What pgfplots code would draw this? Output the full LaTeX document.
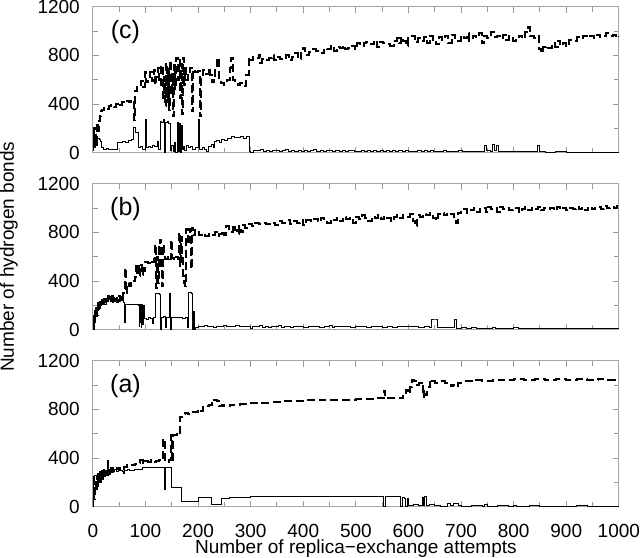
\documentclass[border=0pt]{standalone}
\usepackage{fontspec}
\setmainfont{Liberation Sans}
\usepackage{pgfplots}
\pgfplotsset{compat=1.18}
\usepgfplotslibrary{groupplots}

\pgfplotsset{
  hbaxis/.style={
    width=263pt, height=73pt, scale only axis,
    xmin=0, xmax=1000, ymin=0, ymax=1200,
    xtick={0,100,...,1000}, ytick={0,400,800,1200},
    minor x tick num=1, minor y tick num=1,
    tick align=inside,
    major tick length=3pt, minor tick length=2.5pt,
    axis line style={gray!70, line width=0.6pt},
    every tick/.style={gray!80, line width=0.5pt},
    tick label style={font=\fontsize{9.5}{10}\selectfont},
    yticklabel style={xshift=-3pt, inner ysep=0pt},
    xticklabel style={yshift=-5pt, inner xsep=0pt},
    /pgf/number format/assume math mode=true,
    /pgf/number format/1000 sep={},
    clip=true,
  },
  hbonds/.style={black, line width=0.5pt, const plot},
  hbdash/.style={black, line width=1pt, const plot, dash pattern=on 4pt off 2pt},
}
\tikzset{panel/.style={font=\fontsize{12.5}{13}\selectfont}}

\begin{document}
\begin{tikzpicture}
\begin{groupplot}[
  group style={group size=1 by 3, vertical sep=15.5pt,
               xticklabels at=edge bottom},
  hbaxis,
]
% ---------------- (c)
\nextgroupplot
\addplot[hbdash] coordinates {
(0,150) (2,60) (3,200) (5,120) (7,230) (9,180) (11,260) (13,300) (15,340) (18,350)
(22,370) (27,360) (30,380) (35,390) (40,375) (44,400) (48,410) (52,395) (56,420)
(60,410) (64,425) (68,415) (72,430) (76,420) (78,270) (80,510) (84,540) (88,560)
(92,590) (96,540) (99,660) (101,580) (104,620) (108,660) (112,590) (116,680)
(118,560) (120,620) (124,700) (126,560) (130,720) (133,450) (135,620) (137,380)
(139,740) (141,420) (143,700) (145,350) (147,760) (149,480) (151,650) (153,300)
(155,720) (157,520) (159,780) (161,600) (163,760) (165,450) (167,730) (169,320)
(171,780) (173,560) (175,700) (177,600) (180,650) (185,700) (188,340) (190,680)
(195,660) (200,670) (203,300) (205,620) (210,680) (215,650) (220,700) (223,640)
(226,580) (230,600) (233,700) (236,780) (239,590) (243,570) (250,560) (255,600)
(260,700) (263,780) (266,600) (270,580) (275,560) (280,570) (286,550) (292,640)
(296,780) (300,760) (305,790) (310,780) (315,800) (318,740) (322,770) (328,760)
(335,780) (340,800) (345,760) (350,790) (355,770) (362,780) (368,800) (372,760)
(378,790) (385,820) (390,770) (396,840) (400,860) (404,800) (410,830) (418,850)
(425,840) (432,820) (440,860) (445,850) (452,880) (458,840) (464,870) (470,860)
(476,880) (480,850) (486,860) (492,880) (498,850) (503,900) (508,880) (515,900)
(520,910) (528,890) (535,920) (540,870) (545,910) (552,900) (560,890) (565,880)
(572,920) (578,940) (582,900) (586,950) (590,920) (595,880) (600,940) (606,960)
(612,910) (618,940) (625,920) (630,950) (636,900) (640,960) (646,930) (652,890)
(658,950) (664,930) (670,960) (676,900) (682,970) (688,940) (694,920) (700,960)
(706,940) (712,980) (716,920) (722,960) (728,950) (734,980) (740,900) (744,960)
(750,940) (756,990) (762,950) (768,960) (774,940) (780,970) (786,930) (792,960)
(798,920) (804,950) (810,960) (816,940) (822,990) (828,1030) (832,960) (838,940)
(844,960) (848,850) (852,820) (856,870) (862,880) (866,860) (872,900) (878,870)
(884,920) (888,880) (894,900) (900,880) (906,930) (912,920) (920,950) (926,940)
(932,960) (940,950) (946,960) (952,940) (958,970) (964,950) (970,960) (976,980)
(982,960) (988,970) (994,950) (1000,960)
};
\addplot[hbonds] coordinates {
(0,20) (2,140) (3,40) (5,150) (7,60) (9,120) (12,110) (15,90) (17,40) (20,30)
(25,35) (30,25) (35,30) (40,30) (46,80) (52,85) (57,90) (62,85) (68,100) (73,105)
(78,210) (81,170) (86,40) (90,50) (95,30) (100,270) (102,40) (106,50) (110,40)
(114,60) (118,50) (122,90) (125,30) (128,260) (131,250) (134,270) (137,0) (139,250)
(141,260) (144,240) (147,20) (150,60) (153,10) (155,80) (158,0) (160,250) (162,10)
(164,240) (166,0) (168,220) (170,30) (172,50) (175,20) (178,60) (181,40) (185,50)
(190,30) (195,40) (200,270) (202,30) (208,40) (212,30) (216,10) (220,50) (225,70)
(229,40) (232,90) (236,100) (240,80) (244,110) (250,100) (256,120) (264,130)
(270,125) (280,130) (286,120) (292,130) (297,10)
(300,5) (306,20) (312,15) (318,25) (324,12) (330,20) (336,8) (342,18) (348,22)
(354,10) (360,15) (366,25) (372,12) (378,18) (384,10) (390,22) (396,14) (402,20)
(408,8) (414,16) (420,24) (426,12) (432,18) (438,10) (444,15) (450,20) (456,8)
(462,18) (468,12) (474,22) (480,10) (486,16) (492,20) (498,8) (504,14) (510,18)
(516,10) (522,22) (528,12) (534,16) (540,8) (546,18) (552,12) (558,20) (564,10)
(570,15) (576,8) (582,18) (588,12) (594,20) (600,10) (606,14) (612,8) (618,16)
(624,12) (630,18) (636,10) (642,15) (648,8) (654,14) (660,10) (666,16) (672,12)
(678,8) (684,14) (690,10) (696,15) (702,8) (708,12) (714,10) (720,14) (726,8)
(732,12) (738,10) (744,60) (748,15) (756,12) (760,70) (764,15) (768,60) (771,12)
(780,10) (790,12) (800,8) (810,10) (820,9) (830,8) (840,10) (846,60) (849,8)
(860,5) (880,6) (900,5) (920,5) (950,4) (980,5) (1000,5)
};
\node[panel] at (axis cs:62,990) {(c)};

% ---------------- (b)
\nextgroupplot
\addplot[hbdash] coordinates {
(0,0) (2,100) (4,60) (5,180) (7,120) (9,210) (11,180) (13,220) (15,200) (17,240)
(19,210) (21,250) (23,230) (25,260) (27,240) (29,280) (31,250) (33,270) (35,240)
(37,280) (39,260) (41,250) (43,270) (45,230) (47,260) (50,280) (52,250) (55,240)
(57,300) (59,330) (61,510) (63,300) (65,380) (68,360) (72,380) (76,400) (80,430)
(82,520) (84,470) (86,540) (88,440) (90,500) (92,530) (94,450) (96,520) (98,480)
(100,560) (104,550) (108,570) (112,560) (116,580) (118,700) (120,340) (122,600)
(124,380) (126,680) (128,740) (130,520) (132,360) (134,700) (136,600) (138,580)
(142,600) (146,580) (148,740) (150,590) (154,580) (158,600) (162,580) (164,800)
(166,520) (168,760) (170,600) (172,440) (174,380) (176,360) (178,830) (180,700)
(182,760) (184,830) (186,500) (188,840) (190,780) (194,820) (198,800) (202,780)
(208,790) (214,770) (220,790) (226,780) (232,800) (236,770) (240,790) (246,810)
(250,780) (254,850) (258,830) (262,800) (266,860) (270,820) (274,790) (278,850)
(282,800) (286,860) (290,840) (296,870) (302,850) (308,880) (316,870) (322,880)
(330,870) (338,880) (346,860) (352,890) (360,880) (368,900) (374,870) (380,890)
(388,880) (394,900) (400,860) (406,900) (414,890) (420,910) (428,890) (434,920)
(440,900) (446,880) (452,910) (458,900) (464,920) (470,890) (476,930) (482,910)
(488,920) (494,880) (500,930) (506,910) (512,940) (518,920) (524,890) (530,930)
(536,920) (542,940) (548,910) (554,930) (560,920) (566,890) (572,930) (578,940)
(584,920) (590,940) (596,930) (602,950) (608,890) (612,850) (616,940) (622,930)
(628,950) (634,940) (640,960) (646,920) (652,900) (656,950) (662,960) (668,940)
(674,960) (680,950) (686,930) (690,880) (694,960) (700,970) (706,990) (712,960)
(718,980) (724,1000) (730,970) (736,990) (742,1000) (748,970) (752,1010) (756,990)
(762,1000) (768,970) (774,1010) (780,990) (786,1000) (792,980) (798,990) (804,1000)
(810,970) (816,990) (822,1010) (828,980) (834,1000) (840,990) (846,1010) (852,980)
(858,1000) (864,990) (870,1000) (876,980) (882,1010) (888,990) (894,1000) (900,980)
(906,1000) (912,990) (918,1010) (924,990) (930,1000) (936,980) (942,1010) (948,990)
(954,1000) (960,1010) (966,990) (972,1020) (978,1000) (984,1010) (990,1000)
(996,1020) (1000,1010)
};
\addplot[hbonds] coordinates {
(0,0) (2,120) (4,60) (5,180) (7,110) (9,220) (11,170) (13,230) (15,200) (17,250)
(19,220) (21,240) (23,210) (25,260) (27,230) (29,250) (31,270) (33,240) (35,260)
(37,220) (39,250) (41,230) (43,260) (45,240) (47,220) (49,250) (51,230) (53,270)
(55,240) (57,300) (59,220) (61,60) (62,210) (66,210) (72,210) (78,205) (82,210)
(86,200) (88,30) (89,210) (90,60) (91,200) (92,20) (93,210) (94,40) (96,200)
(98,90) (102,80) (106,100) (110,90) (113,50) (116,100) (120,300) (126,290) (128,0)
(130,100) (134,110) (138,20) (140,100) (146,300) (148,0) (150,100) (160,100)
(170,90) (176,100) (180,20) (182,310) (187,300) (189,0) (191,30) (192,150) (194,0)
(196,20) (200,30) (206,25) (212,35) (218,28) (224,30) (230,22) (236,30) (242,26)
(248,32) (254,24) (260,30) (266,28) (272,34) (278,26) (284,30) (290,24) (296,28)
(300,10) (304,30) (310,25) (316,35) (322,22) (328,28) (334,20) (340,30) (346,25)
(352,32) (358,20) (364,26) (370,30) (376,22) (382,28) (388,24) (394,30) (400,20)
(410,25) (420,30) (430,22) (440,26) (450,35) (456,15) (460,30) (470,25) (480,28)
(490,20) (500,26) (510,30) (520,22) (530,28) (540,24) (550,20) (560,28) (570,22)
(580,26) (590,30) (600,24) (610,28) (620,22) (630,26) (640,20) (643,80) (652,80)
(655,15) (665,20) (675,18) (685,15) (688,80) (691,12) (700,15) (710,12) (720,18)
(730,10) (740,14) (750,12) (760,20) (765,8) (770,14) (780,10) (790,12) (800,15)
(810,10) (820,12) (830,10) (840,14) (850,10) (860,12) (870,8) (880,12) (890,10)
(900,8) (910,12) (920,10) (930,8) (940,12) (950,10) (960,8) (970,10) (980,12)
(990,10) (1000,10)
};
\node[panel] at (axis cs:62,990) {(b)};

% ---------------- (a)
\nextgroupplot[xlabel={Number of replica−exchange attempts},
  xlabel style={font=\fontsize{9.5}{10}\selectfont, inner sep=0pt,
    at={(axis description cs:0.5,0)}, anchor=base, yshift=-23.5pt}]
\addplot[hbdash] coordinates {
(0,0) (1,90) (2,150) (3,60) (4,200) (6,130) (8,230) (10,170) (12,250) (14,200)
(16,260) (18,230) (20,280) (22,250) (24,300) (26,260) (28,310) (30,270) (32,290)
(35,320) (38,290) (42,300) (46,320) (50,300) (55,310) (60,330) (65,340) (70,345)
(75,340) (80,355) (85,360) (90,380) (95,360) (100,375) (105,370) (110,380)
(115,370) (120,375) (125,380) (130,380) (134,560) (137,380) (140,370) (145,380)
(149,590) (151,370) (153,590) (160,600) (163,590) (166,740) (170,760) (175,770)
(180,760) (185,770) (190,780) (195,780) (200,800) (205,790) (210,820) (215,830)
(220,840) (226,850) (230,880) (236,870) (240,830) (246,840) (250,830) (260,840)
(280,845) (300,850) (320,855) (340,860) (360,865) (380,870) (400,875) (420,875)
(440,880) (460,880) (480,880) (500,885) (520,885) (540,890) (553,950) (555,890)
(580,890) (590,910) (596,960) (600,930) (603,980) (606,1040) (610,1030) (614,1000)
(620,1020) (625,1010) (628,900) (630,960) (632,920) (636,980) (640,1040)
(645,1030) (650,1020) (660,1030) (670,1020) (680,990) (684,1000) (690,990)
(695,1020) (700,1030) (720,1040) (740,1035) (760,1045) (780,1040) (800,1050)
(820,1045) (840,1050) (860,1040) (880,1050) (900,1045) (920,1050) (940,1040)
(960,1050) (980,1045) (1000,1050)
};
\addplot[hbonds] coordinates {
(0,0) (1,150) (2,250) (3,180) (4,260) (6,220) (8,270) (10,240) (12,290) (14,250)
(16,300) (18,260) (20,310) (22,280) (24,300) (26,270) (28,380) (29,290) (32,310)
(36,280) (40,310) (44,290) (48,320) (52,300) (56,290) (58,270) (60,300) (65,310)
(70,300) (80,310) (90,310) (95,320) (100,320) (110,325) (120,320) (130,320)
(136,140) (138,320) (142,320) (150,160) (160,160) (168,40) (180,40) (190,45)
(200,75) (215,75) (226,20) (235,20) (245,70) (260,75) (280,80) (300,85) (400,85)
(500,85) (550,85) (553,0) (556,85) (580,85) (585,0) (588,80) (592,70) (595,0)
(598,70) (601,10) (610,15) (620,10) (626,80) (629,10) (631,85) (634,10) (640,15)
(650,10) (660,5) (675,30) (680,10) (685,30) (690,30) (695,10) (700,5) (720,8)
(740,5) (745,15) (750,5) (770,8) (790,5) (800,12) (805,5) (830,8) (850,5)
(880,6) (900,5) (920,8) (940,5) (960,6) (980,5) (1000,8)
};
\node[panel] at (axis cs:62,990) {(a)};
\end{groupplot}
\node[rotate=90, inner sep=0pt, font=\fontsize{9.5}{10}\selectfont]
  at ([xshift=-42pt]group c1r2.west) {Number of hydrogen bonds};
\end{tikzpicture}
\end{document}
